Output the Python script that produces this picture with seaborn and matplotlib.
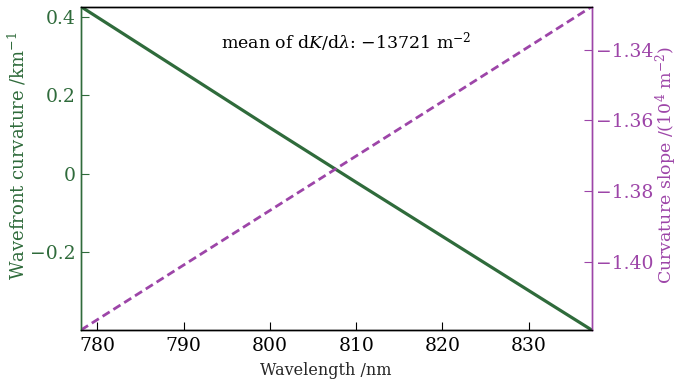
import matplotlib
matplotlib.use("Agg")
import matplotlib.pyplot as plt
import seaborn as sns
import pandas as pd

# data
wavelength = [778.1, 790, 800, 810, 820, 830, 837.3]
curvature = [0.4255, 0.258, 0.117, -0.022, -0.160, -0.298, -0.3985]
slope_wl = [778.1, 800, 820, 837.3]
slope_vals = [-1.4193, -1.3855, -1.3547, -1.3279]
xticks = [780, 790, 800, 810, 820, 830]
left_ticks = [-0.2, 0, 0.2, 0.4]
left_ticklabels = ["−0.2", "0", "0.2", "0.4"]
right_ticks = [-1.40, -1.38, -1.36, -1.34]
right_ticklabels = ["−1.40", "−1.38", "−1.36", "−1.34"]

GREEN = "#2f6b3b"
PURPLE = "#9d45a8"

sns.set_style("ticks")
plt.rcParams["font.family"] = ["DejaVu Serif"]
plt.rcParams["mathtext.fontset"] = "dejavuserif"
plt.rcParams["xtick.direction"] = "in"
plt.rcParams["ytick.direction"] = "in"

fig = plt.figure(figsize=(6.78, 3.83), dpi=100)
ax = fig.add_axes([81/678, 1-330/383, (591.7-81)/678, (330-6.7)/383])

df1 = pd.DataFrame({"x": wavelength, "y": curvature})
df2 = pd.DataFrame({"x": slope_wl, "y": slope_vals})

TICK_FS = 13.5

sns.lineplot(data=df1, x="x", y="y", ax=ax, color=GREEN, linewidth=2.3)
ax.set_xlim(wavelength[0], wavelength[-1])
ax.set_ylim(curvature[-1], curvature[0])
ax.set_xticks(xticks)
ax.set_xticklabels([str(t) for t in xticks], fontsize=TICK_FS)
ax.set_yticks(left_ticks)
ax.set_yticklabels(left_ticklabels, fontsize=TICK_FS, color=GREEN)
ax.tick_params(axis="y", colors=GREEN, length=5.5, width=0.8, pad=4)
ax.tick_params(axis="x", length=5.5, width=0.8, colors="black", pad=5)
ax.set_xlabel("Wavelength /nm", fontsize=11.5)
ax.xaxis.set_label_coords(0.48, -0.1)
ax.set_ylabel("Wavefront curvature /km$^{-1}$", fontsize=13, color=GREEN)
ax.yaxis.set_label_coords(-0.104, 0.54)

ax2 = ax.twinx()
sns.lineplot(data=df2, x="x", y="y", ax=ax2, color=PURPLE, linewidth=2.0)
ax2.lines[0].set_dashes([3, 1.6])
ax2.set_ylim(slope_vals[0], slope_vals[-1])
ax2.set_yticks(right_ticks)
ax2.set_yticklabels(right_ticklabels, fontsize=TICK_FS, color=PURPLE)
ax2.tick_params(axis="y", colors=PURPLE, length=5.5, width=0.8, pad=3)
ax2.set_ylabel("Curvature slope /(10$^{4}$ m$^{-2}$)", fontsize=12.5, color=PURPLE)
ax2.yaxis.set_label_coords(1.122, 0.51)
ax2.set_xlim(wavelength[0], wavelength[-1])

for a in (ax, ax2):
    a.spines["top"].set_color("black")
    a.spines["bottom"].set_color("black")
    a.spines["left"].set_color(GREEN)
    a.spines["right"].set_color(PURPLE)
    for s in a.spines.values():
        s.set_linewidth(1.0)
        s.set_visible(True)

ax.text(0.52, 0.89, "mean of d$K$/d$\\lambda$: −13721 m$^{-2}$", transform=ax.transAxes,
        ha="center", va="center", fontsize=12.5, color="black")

fig.savefig("out.png", dpi=100)
